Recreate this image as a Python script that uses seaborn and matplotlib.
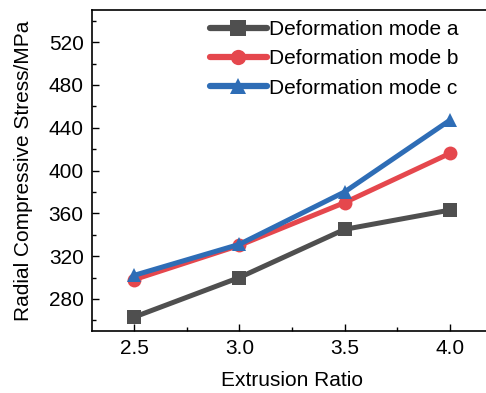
import matplotlib
matplotlib.use("Agg")
import matplotlib.pyplot as plt
from matplotlib.ticker import MultipleLocator
import seaborn as sns
import pandas as pd

ratios = [2.5, 3.0, 3.5, 4.0]
mode_a = [263, 300, 345, 363]
mode_b = [298, 330, 370, 416]
mode_c = [302, 331, 380, 447]
labels = ["Deformation mode a", "Deformation mode b", "Deformation mode c"]
colors = ["#4f4f4f", "#e5474d", "#2e6db6"]
markers = ["s", "o", "^"]

rows = []
for lab, vals in zip(labels, [mode_a, mode_b, mode_c]):
    for r, v in zip(ratios, vals):
        rows.append({"ratio": r, "stress": v, "mode": lab})
df = pd.DataFrame(rows)

sns.set_style("ticks")
plt.rcParams['font.family'] = ['Liberation Sans', 'DejaVu Sans']
plt.rcParams['text.color'] = 'black'
plt.rcParams['axes.labelcolor'] = 'black'
plt.rcParams['xtick.color'] = 'black'
plt.rcParams['ytick.color'] = 'black'

fig = plt.figure(figsize=(4.86, 3.93), dpi=100)
ax = fig.add_axes([92/486, 62/393, 400/486, 321/393])

sns.lineplot(data=df, x="ratio", y="stress", hue="mode", style="mode",
             palette=dict(zip(labels, colors)), markers=dict(zip(labels, markers)),
             dashes=False, linewidth=3.6, markersize=10, markeredgewidth=0,
             ax=ax, legend=True)

ax.set_xlim(2.3, 4.2)
ax.set_ylim(250, 550)
ax.xaxis.set_major_locator(MultipleLocator(0.5))
ax.xaxis.set_minor_locator(MultipleLocator(0.25))
ax.yaxis.set_minor_locator(MultipleLocator(20))
ax.set_yticks([280, 320, 360, 400, 440, 480, 520])
ax.tick_params(which='major', direction='in', length=5, width=1.0, labelsize=15, pad=6)
ax.tick_params(which='minor', direction='in', length=3, width=1.0)
ax.tick_params(top=False, right=False, which='both')
for s in ax.spines.values():
    s.set_linewidth(1.2)
    s.set_color('black')
ax.spines['right'].set_visible(False)

ax.set_xlabel("Extrusion Ratio", fontsize=15, labelpad=9)
ax.set_ylabel("Radial Compressive Stress/MPa", fontsize=15, labelpad=11)

leg = ax.legend(loc='upper left', bbox_to_anchor=(0.275, 0.995), frameon=False,
                fontsize=15, handlelength=2.7, handletextpad=0.1,
                labelspacing=0.5, borderaxespad=0)
for lh in leg.get_lines():
    lh.set_linewidth(4.5)
    lh.set_markersize(11)
for t in leg.get_texts():
    t.set_color('black')

fig.savefig("out.png", dpi=100)
